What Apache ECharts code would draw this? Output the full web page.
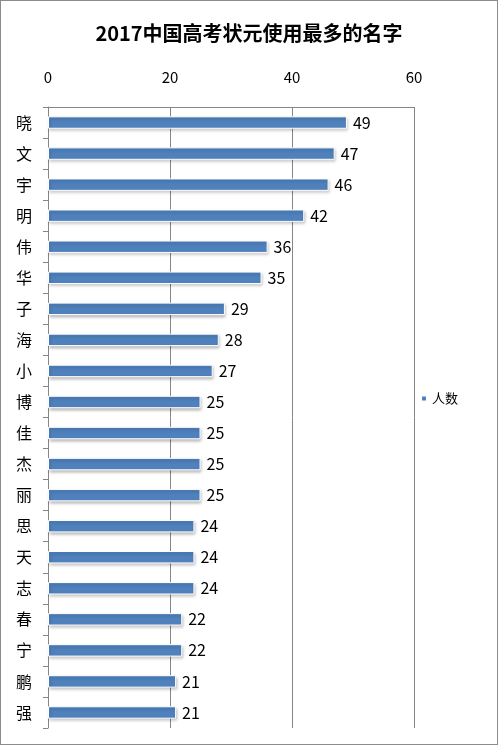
<!DOCTYPE html>
<html>
<head>
<meta charset="utf-8">
<script src="https://cdn.jsdelivr.net/npm/echarts@6/dist/echarts.min.js"></script>
<style>
html, body { margin: 0; padding: 0; background: #fff; }
#chart { width: 498px; height: 745px; box-sizing: border-box; border: 1px solid #8c8c8c; }
</style>
</head>
<body>
<div id="chart"></div>
<script>
'use strict';

const names = ['晓', '文', '宇', '明', '伟', '华', '子', '海', '小', '博',
  '佳', '杰', '丽', '思', '天', '志', '春', '宁', '鹏', '强'];
const counts = [49, 47, 46, 42, 36, 35, 29, 28, 27, 25,
  25, 25, 25, 24, 24, 24, 22, 22, 21, 21];
const seriesName = '人数';
const titleText = '2017中国高考状元使用最多的名字';

const font = '"Microsoft YaHei", "Noto Sans CJK SC", sans-serif';
const chart = echarts.init(document.getElementById('chart'));

chart.setOption({
  animation: false,
  title: {
    text: titleText,
    left: 'center',
    top: 17,
    textStyle: {fontFamily: font, fontSize: 20, fontWeight: 'bold', color: '#000'}
  },
  legend: {
    data: [seriesName],
    orient: 'vertical',
    left: 414,
    top: 386,
    icon: 'rect',
    itemWidth: 6,
    itemHeight: 6,
    itemGap: 4,
    textStyle: {fontFamily: font, fontSize: 13, color: '#000'}
  },
  grid: {left: 47, right: 83, top: 106, bottom: 16},
  xAxis: {
    type: 'value',
    position: 'top',
    min: 0,
    max: 60,
    interval: 20,
    axisLine: {show: true, lineStyle: {color: '#868686'}},
    axisTick: {show: false},
    axisLabel: {fontFamily: font, fontSize: 15, color: '#000', margin: 22},
    splitLine: {show: true, lineStyle: {color: '#868686', width: 1}}
  },
  yAxis: {
    type: 'category',
    inverse: true,
    data: names,
    axisLine: {show: true, lineStyle: {color: '#868686'}},
    axisTick: {show: true, length: 5, lineStyle: {color: '#868686'}},
    axisLabel: {fontFamily: font, fontSize: 16, color: '#000', margin: 16}
  },
  series: [{
    name: seriesName,
    type: 'bar',
    data: counts,
    barCategoryGap: '60%',
    itemStyle: {
      color: '#4f81bd',
      borderColor: '#fff',
      borderWidth: 1,
      shadowColor: 'rgba(0,0,0,0.25)',
      shadowBlur: 3,
      shadowOffsetX: 1,
      shadowOffsetY: 2
    },
    label: {
      show: true,
      position: 'right',
      distance: 6,
      fontFamily: font,
      fontSize: 16,
      color: '#000'
    }
  }]
});
</script>
</body>
</html>
